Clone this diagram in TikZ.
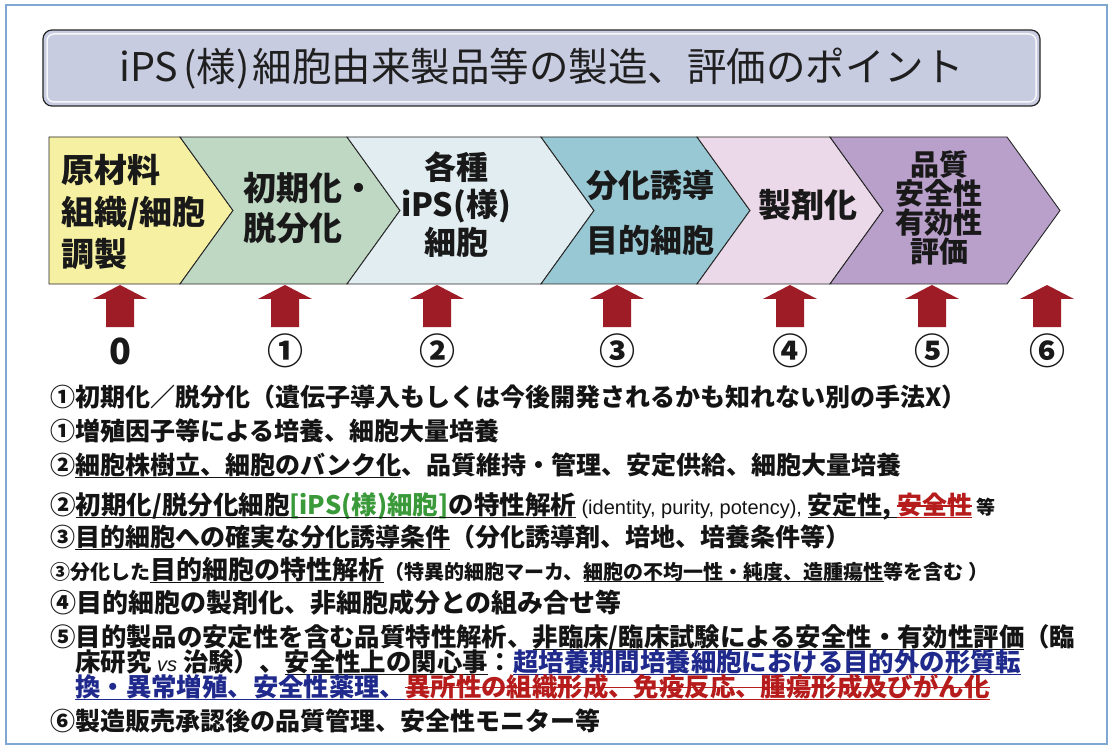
\documentclass[tikz,border=0pt]{standalone}
\usepackage{fontspec}
\setmainfont{Liberation Sans}
\newfontfamily\jp{Noto Sans CJK JP}
\newfontfamily\lat{Liberation Sans}
\newcommand\fs[1]{\fontsize{#1}{#1}\selectfont}
\newsavebox\stkbox
\newsavebox\ulbox
\newcommand\stk[1]{\sbox\stkbox{#1}\rlap{\usebox\stkbox}\rule[0.3em]{\wd\stkbox}{0.06em}}
\newcommand\ul[1]{\sbox\ulbox{#1}\rlap{\usebox\ulbox}\rule[-0.16em]{\wd\ulbox}{0.06em}}
\definecolor{framecol}{HTML}{7FA7D1}
\definecolor{titlefill}{HTML}{C8CCE1}
\definecolor{cA}{HTML}{F6F0A2}
\definecolor{cB}{HTML}{BFD8C4}
\definecolor{cC}{HTML}{E2EDF1}
\definecolor{cD}{HTML}{98C8D3}
\definecolor{cE}{HTML}{EBD8E8}
\definecolor{cF}{HTML}{B9A0CB}
\definecolor{arrred}{HTML}{9E1C26}
\definecolor{jblue}{HTML}{1F2A8C}
\definecolor{jred}{HTML}{B71C1C}
\definecolor{jgreen}{HTML}{3A9A3A}
\tikzset{
  chev/.style={draw=black!85, line width=0.9pt},
  chtxt/.style={inner sep=0, font=\jp\bfseries\fs{33}, text=black!90},
  ln/.style={anchor=base west, inner sep=0, text=black!92},
  numlab/.style={inner sep=0, font=\jp\bfseries\fs{36}, text=black!90},
}
\begin{document}
\begin{tikzpicture}[x=1pt,y=-1pt]
\useasboundingbox (0,0) rectangle (1109,746);
\fill[white] (0,0) rectangle (1109,746);
\draw[framecol, line width=1.2pt] (6,5) rectangle (1107,744);
% title
\node[draw=black!85, line width=1.2pt, fill=titlefill, rounded corners=9pt, minimum width=997pt, minimum height=76pt, inner sep=0] (title) at (541.5,68) {};
\draw[white!85!titlefill, line width=1.5pt, rounded corners=7pt] (47,34) rectangle (1036,102);
\node[inner sep=0, font=\jp\fs{39.5}, text=black!88] (titletext) at (541.5,69) {iPS\hspace{5pt}(様)\hspace{3pt}細胞由来製品等の製造、評価のポイント};
% chevrons
\filldraw[chev, fill=cA] (49,137) -- (180,137) -- (233,210.5) -- (180,284) -- (49,284) -- cycle;
\filldraw[chev, fill=cB] (180,137) -- (347,137) -- (400,210.5) -- (347,284) -- (180,284) -- (233,210.5) -- cycle;
\filldraw[chev, fill=cC] (347,137) -- (541,137) -- (594,210.5) -- (541,284) -- (347,284) -- (400,210.5) -- cycle;
\filldraw[chev, fill=cD] (541,137) -- (697,137) -- (750,210.5) -- (697,284) -- (541,284) -- (594,210.5) -- cycle;
\filldraw[chev, fill=cE] (697,137) -- (830,137) -- (883,210.5) -- (830,284) -- (697,284) -- (750,210.5) -- cycle;
\filldraw[chev, fill=cF] (830,137) -- (1007,137) -- (1060,210.5) -- (1007,284) -- (830,284) -- (883,210.5) -- cycle;
\node[chtxt, anchor=west, align=left, font=\jp\bfseries\fontsize{33}{42}\selectfont] (c1) at (61,212) {原材料\\組織/細胞\\調製};
\node[chtxt, anchor=west, align=left, font=\jp\bfseries\fontsize{33}{40}\selectfont] (c2) at (243,208) {初期化・\\脱分化};
\node[chtxt, align=center, font=\jp\bfseries\fontsize{32}{37.5}\selectfont] (c3) at (456,204.5) {各種\\iPS(様)\\細胞};
\node[chtxt, align=center, font=\jp\bfseries\fontsize{32}{55}\selectfont] (c4) at (650,212.5) {分化誘導\\目的細胞};
\node[chtxt, font=\jp\bfseries\fs{33}] (c5) at (808,205) {製剤化};
\node[chtxt, align=center, font=\jp\bfseries\fontsize{29}{29}\selectfont] (c6) at (939,207.5) {品質\\安全性\\有効性\\評価};
% arrows and labels
\foreach \x/\lab [count=\i] in {120/0, 285/①, 437/②, 617/③, 790/④, 932/⑤, 1047/⑥}{
  \fill[arrred] (\x-14,327) -- (\x-14,299) -- (\x-27,299) -- (\x,285) -- (\x+27,299) -- (\x+14,299) -- (\x+14,327) -- cycle;
  \node[numlab] (n\i) at (\x,351) {\lab};
}
% list
\begin{scope}[every node/.style={ln, font=\jp\bfseries\fs{25}}]
\node (l1) at (50,406) {①初期化／脱分化（遺伝子導入もしくは今後開発されるかも知れない別の手法X）};
\node (l2) at (50,440) {①増殖因子等による培養、細胞大量培養};
\node (l3) at (50,474) {②\ul{細胞株樹立、細胞のバンク化}、品質維持・管理、安定供給、細胞大量培養};
\node (l4) at (50,514) {{\fs{25.5}②\ul{初期化/脱分化細胞{\color{jgreen}[iPS(様)細胞]}の特性解析}}{\lat\mdseries\fs{20} (identity, purity, potency), }\ul{安定性,\ }{\color{jred}\ul{\stk{安全性}}}{\fs{19} 等}};
\node (l5) at (50,546) {③\ul{目的細胞への確実な分化誘導条件}（分化誘導剤、培地、培養条件等）};
\node (l6) at (50,579) {{\fs{20}③分化した}{\fs{26}\ul{目的細胞の特性解析}}{\fs{20}（特異的細胞マーカ、\ul{細胞の不均一性・純度、造腫瘍性}等を含む ）}};
\node (l7) at (50,612) {\fs{26}④目的細胞の製剤化、非細胞成分との組み合せ等};
\node (l8) at (50,646) {\fs{25.4}⑤目的製品の安定性を含む品質特性解析、\ul{非臨床/臨床試験による安全性・有効性評価}（臨};
\node (l9) at (75,671) {\fs{25.4}床研究 {\lat\mdseries\itshape\fs{20}vs} 治験）、\ul{安全性上の関心事}：{\color{jblue}\ul{超培養期間培養細胞における目的外の形質転}}};
\node (l10) at (75,696) {\fs{25.4}{\color{jblue}\ul{換・異常増殖、安全性薬理、}}{\color{jred}\ul{\stk{異所性の組織形成、免疫反応、腫瘍形成及びがん化}}}};
\node (l11) at (50,730) {⑥製造販売承認後の品質管理、安全性モニター等};
\end{scope}
\end{tikzpicture}
\end{document}
